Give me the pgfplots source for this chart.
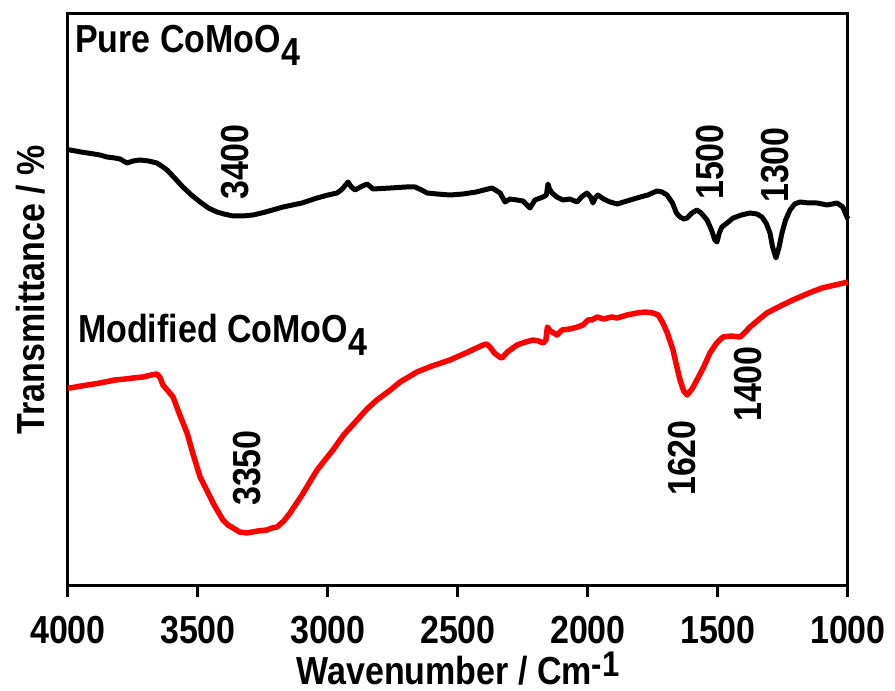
\documentclass[border=0pt]{standalone}
\usepackage{graphicx}
\usepackage{pgfplots}
\pgfplotsset{compat=1.18}
\usepackage{fontspec}
\setmainfont{Liberation Sans}
\newcommand{\bigf}{\fontsize{34bp}{38bp}\selectfont\bfseries}
\newcommand{\tx}[1]{\scalebox{1}[1.15]{#1}}
\begin{document}
\begin{tikzpicture}
\path (-68bp,-106bp) (827bp,585bp);
\begin{axis}[
  scale only axis, width=780bp, height=571bp,
  x dir=reverse, xmin=1000, xmax=4000, ymin=0, ymax=571,
  xtick={1000,1500,...,4000}, xtick pos=bottom, tick align=outside,
  major tick length=12bp,
  ytick=\empty,
  axis line style={line width=3bp},
  every tick/.style={line width=3bp, black},
  /pgf/number format/assume math mode=true,
  /pgf/number format/1000 sep={},
  xticklabel={\tx{\pgfmathprintnumber{\tick}}},
  xticklabel style={font=\bigf, anchor=base, yshift=-46bp},
  xlabel={\tx{Wavenumber / Cm\raisebox{6.5bp}{\fontsize{31bp}{31bp}\selectfont -1}}},
  xlabel style={font=\bigf, at={(axis description cs:0.5,0)}, anchor=base, yshift=-99bp},
  ylabel={\tx{Transmittance / \%}},
  ylabel style={font=\bigf, at={(axis description cs:-0.0295,0.517)}, anchor=base},
  clip=false,
]
\addplot[black, line width=5bp, line join=round] coordinates {
(4000,435)(3992,435)(3950,433)(3900,431)(3877,430)(3850,428)(3820,427)(3800,426)(3773,422)(3750,424)(3723,425)(3690,424)(3658,422)(3640,419)(3619,415)(3590,407)(3558,398)(3525,390)(3492,383)(3460,377)(3427,373)(3400,371)(3365,369)(3330,369)(3288,370)(3240,373)(3173,378)(3100,382)(3042,387)(3000,390)(2965,392)(2945,396)(2923,403)(2910,398)(2896,395)(2875,398)(2850,401)(2835,398)(2827,396)(2760,397)(2700,398)(2665,398)(2640,395)(2619,392)(2580,391)(2531,390)(2480,391)(2430,393)(2400,395)(2369,397)(2350,394)(2338,392)(2319,383)(2300,386)(2273,385)(2250,384)(2223,377)(2204,385)(2173,388)(2160,390)(2154,401)(2148,396)(2138,392)(2120,388)(2096,385)(2070,386)(2042,383)(2025,388)(2004,392)(1990,388)(1981,382)(1970,388)(1962,390)(1940,386)(1915,383)(1888,381)(1850,384)(1812,387)(1770,390)(1735,394)(1715,393)(1696,390)(1675,382)(1660,372)(1646,368)(1630,366)(1619,367)(1600,372)(1581,375)(1565,372)(1542,365)(1525,355)(1512,345)(1504,343)(1495,352)(1485,358)(1465,362)(1442,367)(1410,370)(1377,372)(1350,371)(1331,368)(1315,362)(1300,352)(1290,338)(1277,327)(1265,338)(1254,352)(1240,365)(1223,375)(1205,381)(1185,383)(1150,382)(1119,382)(1080,380)(1042,382)(1020,378)(1004,368)(1000,366)
};
\addplot[red, line width=5.5bp, line join=round] coordinates {
(4000,197)(3992,197)(3950,199)(3900,201)(3877,202)(3820,205)(3780,206)(3750,207)(3712,208)(3680,210)(3658,211)(3645,207)(3635,200)(3615,194)(3596,188)(3570,170)(3542,152)(3518,130)(3492,108)(3465,94)(3442,82)(3420,72)(3404,65)(3385,60)(3365,57)(3340,53)(3312,52)(3270,54)(3235,55)(3215,57)(3196,58)(3170,64)(3146,72)(3100,90)(3042,115)(2981,135)(2940,150)(2888,165)(2850,176)(2812,185)(2760,195)(2723,203)(2690,208)(2658,213)(2600,219)(2531,225)(2470,232)(2404,240)(2390,241)(2377,238)(2360,232)(2340,228)(2331,227)(2310,233)(2273,240)(2240,243)(2212,245)(2190,244)(2173,242)(2162,245)(2156,258)(2145,254)(2119,250)(2100,255)(2070,256)(2040,258)(2019,260)(2000,265)(1985,265)(1965,268)(1940,266)(1910,268)(1888,267)(1850,270)(1812,272)(1780,273)(1750,272)(1730,270)(1712,262)(1695,252)(1673,235)(1660,220)(1646,205)(1632,194)(1619,190)(1600,196)(1581,205)(1555,218)(1531,232)(1505,242)(1481,248)(1450,249)(1415,248)(1395,253)(1377,258)(1345,265)(1312,272)(1260,279)(1212,285)(1150,292)(1100,297)(1050,300)(1000,303)
};
\node[font=\bigf, anchor=base west, inner sep=0] at (axis cs:3973,532) {\tx{Pure CoMoO\raisebox{-10.5bp}{4}}};
\node[font=\bigf, anchor=base west, inner sep=0] at (axis cs:3962,242) {\tx{Modified CoMoO\raisebox{-10.5bp}{4}}};
\node[font=\bigf, rotate=90, inner sep=0] at (axis cs:3358,423) {\tx{3400}};
\node[font=\bigf, rotate=90, inner sep=0] at (axis cs:1531,423) {\tx{1500}};
\node[font=\bigf, rotate=90, inner sep=0] at (axis cs:1281,420) {\tx{1300}};
\node[font=\bigf, rotate=90, inner sep=0] at (axis cs:3312,117) {\tx{3350}};
\node[font=\bigf, rotate=90, inner sep=0] at (axis cs:1639,127) {\tx{1620}};
\node[font=\bigf, rotate=90, inner sep=0] at (axis cs:1385,201) {\tx{1400}};
\end{axis}
\begin{axis}[
  scale only axis, width=780bp, height=571bp,
  x dir=reverse, xmin=1000, xmax=4000, ymin=0, ymax=571,
  axis line style={draw=none},
  xtick={1000,1500,...,4000}, xtick pos=top, xticklabels={},
  ytick distance=47.583, ytick pos=both, yticklabels={},
  tick align=center, major tick length=3bp,
  every tick/.style={line width=1.5bp, black},
]
\end{axis}
\end{tikzpicture}
\end{document}
